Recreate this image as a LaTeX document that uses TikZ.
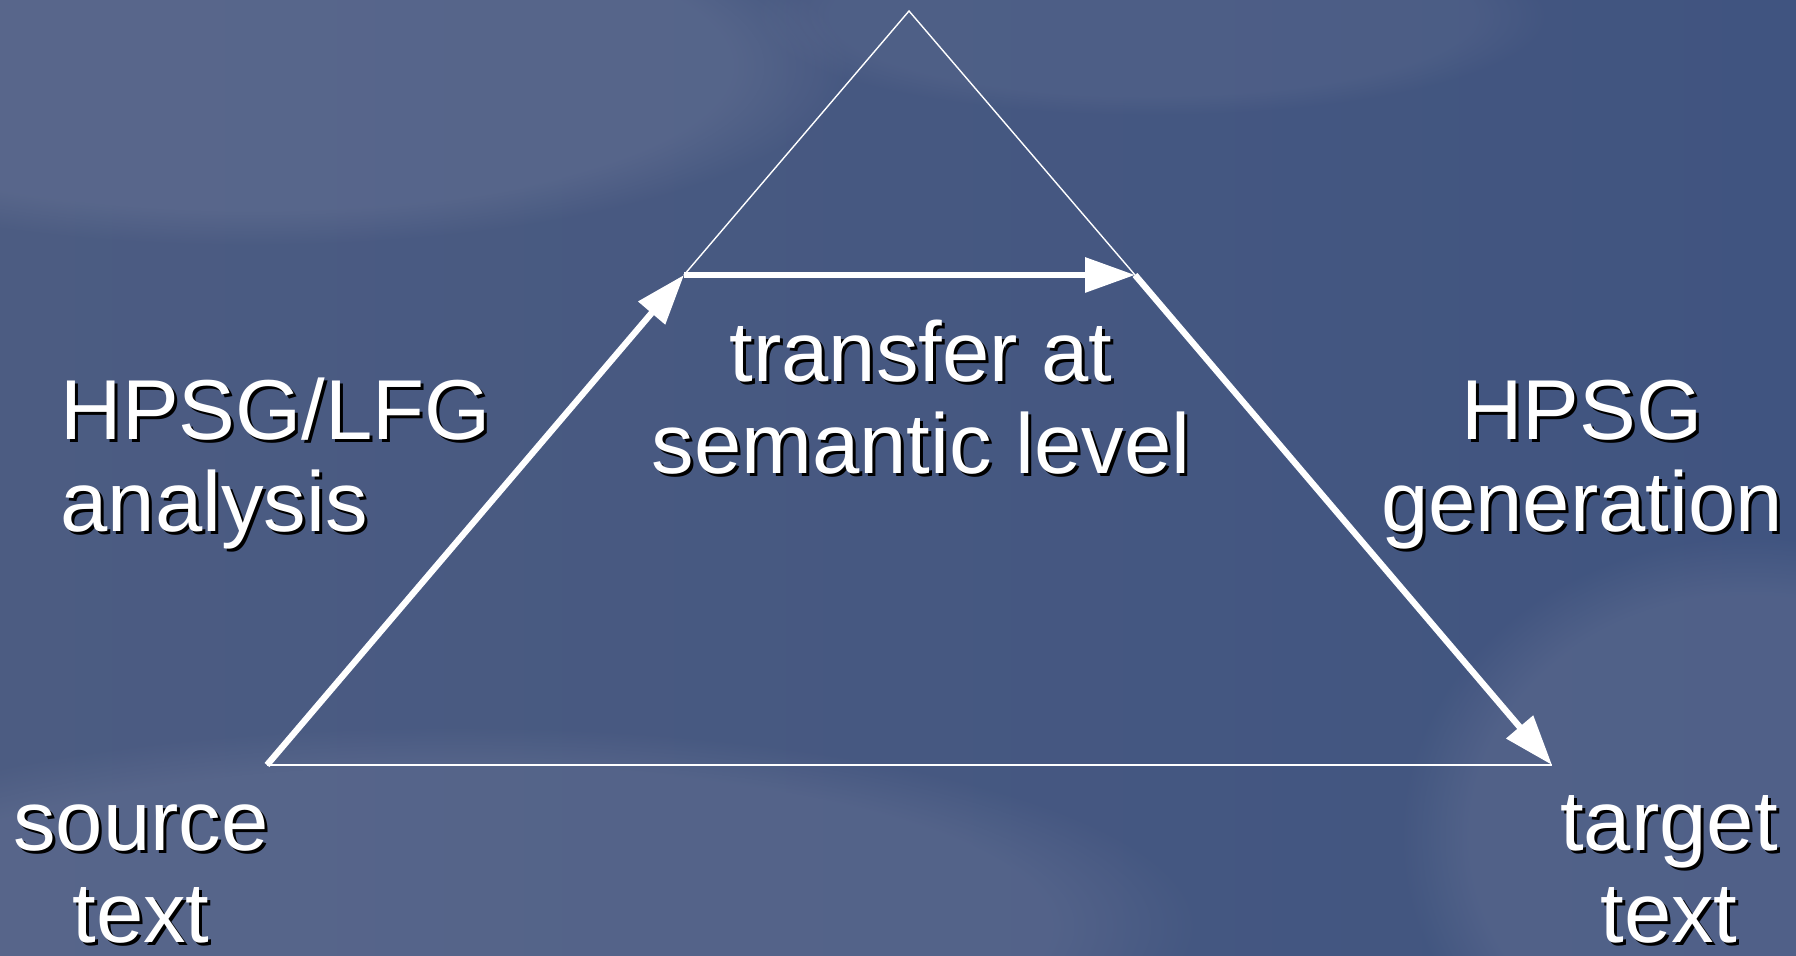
\documentclass[tikz,border=0pt]{standalone}
\usepackage{fontspec}
\setmainfont{Liberation Sans}
\usetikzlibrary{positioning,arrows.meta}
\usetikzlibrary{fadings}
\tikzstyle{thin edge} = [white, line width=0.4pt]
\tikzstyle{thick edge} = [white, line width=1.8pt, -{Triangle[length=0.5cm,width=0.34cm]}]
\tikzstyle{lbl} = [white, inner sep=0pt, align=center, font=\fontsize{24.2}{26.4}\selectfont]
\tikzstyle{cloud} = [path fading=circle with fuzzy edge 20 percent]
\newcommand{\shadowed}[1]{\leavevmode\rlap{\kern0.03cm\raisebox{-0.03cm}{\color{black}#1}}#1}

\begin{document}
\begin{tikzpicture}
\definecolor{skyleft}{RGB}{76,92,130}
\definecolor{skyright}{RGB}{64,84,128}
\definecolor{skylight}{RGB}{104,116,150}
\useasboundingbox (0,0) rectangle (17.96,9.56);
\shade[left color=skyleft, right color=skyright] (0,0) rectangle (17.96,9.56);

% sky
\fill[skylight, cloud, opacity=0.45] (2.5,8.9) ellipse (6 and 1.8);
\fill[skylight, cloud, opacity=0.25] (11.5,9.4) ellipse (4 and 1);
\fill[skylight, cloud, opacity=0.4] (4.5,0.3) ellipse (7.5 and 2);
\fill[skylight, cloud, opacity=0.4] (17.5,1.2) ellipse (3.5 and 3);

\coordinate (top) at (9.09,9.45);
\coordinate (lmid) at (6.84,6.81);
\coordinate (rmid) at (11.35,6.81);
\coordinate (src) at (2.67,1.91);
\coordinate (tgt) at (15.52,1.91);

\draw[thin edge] (lmid) -- (top) -- (rmid);
\draw[thin edge] (src) -- (tgt);

\draw[thick edge] (src) -- (lmid);
\draw[thick edge] (lmid) -- (rmid);
\draw[thick edge] (rmid) -- (tgt);

\node[lbl, anchor=base west, align=left] (analysis) at (0.60,4.24) {\shadowed{HPSG/LFG}\\\shadowed{analysis}};
\node[lbl, anchor=base] (transfer) at (9.21,4.82) {\shadowed{transfer at}\\\shadowed{semantic level}};
\node[lbl, anchor=base] (generation) at (15.82,4.24) {\shadowed{HPSG}\\\shadowed{generation}};
\node[lbl, anchor=base] (source) at (1.41,0.13) {\shadowed{source}\\\shadowed{text}};
\node[lbl, anchor=base] (target) at (16.69,0.13) {\shadowed{target}\\\shadowed{text}};

\end{tikzpicture}
\end{document}
